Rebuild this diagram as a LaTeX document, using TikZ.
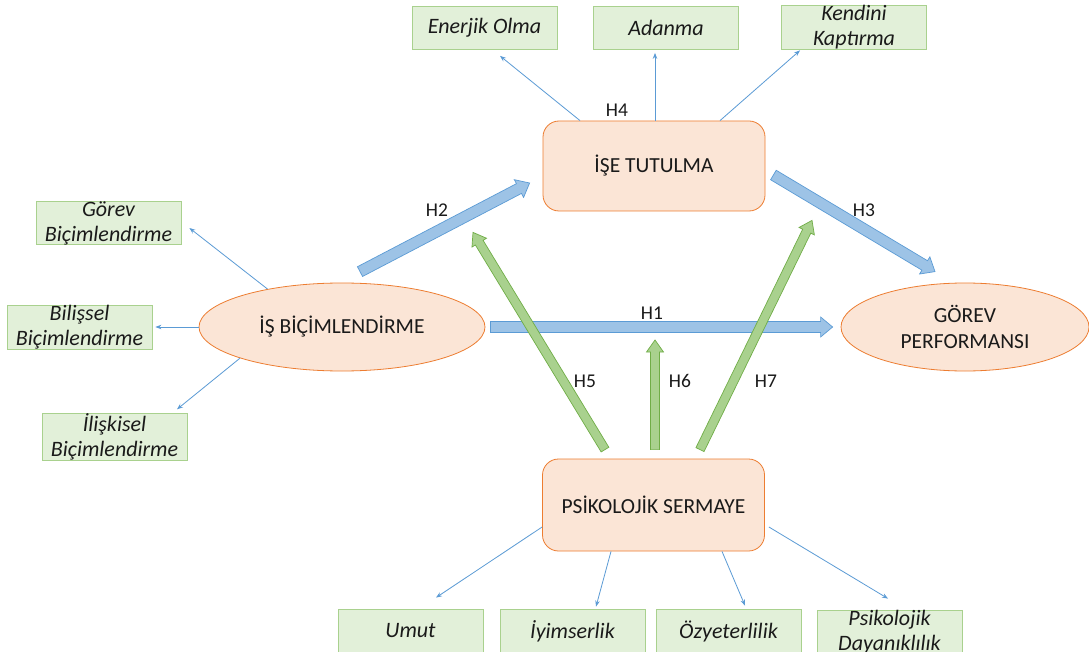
\documentclass[tikz,border=0pt]{standalone}
\usepackage{fontspec}
\setmainfont{Carlito}
\usetikzlibrary{arrows.meta,calc,shapes.geometric}

\definecolor{peach}{HTML}{FBE5D6}
\definecolor{peachline}{HTML}{ED7D31}
\definecolor{leaf}{HTML}{E2F0D9}
\definecolor{leafline}{HTML}{A9D18E}
\definecolor{skyfill}{HTML}{9DC3E6}
\definecolor{skyline}{HTML}{5B9BD5}
\definecolor{grassfill}{HTML}{A9D18E}
\definecolor{grassline}{HTML}{70AD47}
\definecolor{thinblue}{HTML}{5B9BD5}
\definecolor{ink}{HTML}{1A1A1A}

\tikzset{
  construct/.style={draw=peachline, fill=peach, line width=0.8pt, align=center,
    inner sep=0pt, text=ink, font=\fontsize{21.5}{26}\selectfont},
  roundbox/.style={construct, rounded corners=16pt, minimum width=222pt, minimum height=90pt},
  oval/.style={construct, ellipse, minimum height=88pt},
  dimbox/.style={draw=leafline, fill=leaf, line width=0.8pt, minimum width=145pt,
    minimum height=43pt, inner sep=0pt, align=center, text=ink,
    font=\itshape\fontsize{22}{25}\selectfont},
  thinarr/.style={draw=thinblue, line width=0.8pt, -{Stealth[length=6pt,width=4.5pt]}},
  hyp/.style={font=\fontsize{19.5}{21}\selectfont, inner sep=0pt, text=ink},
  bluefat/.style={fill=skyfill, draw=skyline, line width=0.7pt, line join=miter},
  greenfat/.style={fill=grassfill, draw=grassline, line width=0.7pt, line join=miter},
}

% block arrow from #2 to #3: #4 half shaft width, #5 half head width
\newcommand{\fatarrow}[5]{%
  \draw[#1] ($(#2)!#4!90:(#3)$)
    -- ($(#3)!12pt!(#2)!#4!-90:(#2)$)
    -- ($(#3)!12pt!(#2)!#5!-90:(#2)$)
    -- (#3)
    -- ($(#3)!12pt!(#2)!#5!90:(#2)$)
    -- ($(#3)!12pt!(#2)!#4!90:(#2)$)
    -- ($(#2)!#4!-90:(#3)$) -- cycle;}

\begin{document}
\begin{tikzpicture}[x=1pt,y=-1pt]
\useasboundingbox[fill=white] (0,0) rectangle (1089,652);

% main constructs
\node[roundbox] (ise) at (654,166) {İŞE TUTULMA};
\node[roundbox, minimum height=92pt] (psk) at (653.5,505) {PSİKOLOJİK SERMAYE};
\node[oval, minimum width=286pt] (isb) at (342,327) {İŞ BİÇİMLENDİRME};
\node[oval, minimum width=248pt] (gp) at (965,327) {GÖREV\\PERFORMANSI};

% dimensions of work engagement
\node[dimbox] (enerjik) at (484.5,28) {Enerjik Olma};
\node[dimbox] (adanma) at (666,28) {Adanma};
\node[dimbox, minimum height=44pt] (kendini) at (854,27) {Kendini\\Kaptırma};

% dimensions of job crafting
\node[dimbox] (gorev) at (108.5,223) {Görev\\Biçimlendirme};
\node[dimbox] (bilissel) at (79.5,327) {Bilişsel\\Biçimlendirme};
\node[dimbox] (iliskisel) at (114.5,437) {İlişkisel\\Biçimlendirme};

% dimensions of psychological capital
\node[dimbox, minimum height=44pt] (umut) at (410.5,631) {Umut};
\node[dimbox, minimum height=44pt] (iyim) at (572.5,631) {İyimserlik};
\node[dimbox, minimum height=44pt] (ozy) at (728.5,631) {Özyeterlilik};
\node[dimbox, minimum height=44pt] (psikd) at (889.5,632) {Psikolojik\\Dayanıklılık};

% thin arrows to the dimensions
\draw[thinarr] ([xshift=-74pt]ise.north) -- ([xshift=15.5pt,yshift=-6pt]enerjik.south);
\draw[thinarr] ([xshift=1pt]ise.north) -- ([xshift=-11pt,yshift=-3pt]adanma.south);
\draw[thinarr] ([xshift=66pt]ise.north) -- ([xshift=-54pt,yshift=-1pt]kendini.south);

\draw[thinarr] (isb.153) -- ([xshift=8pt,yshift=-5pt]gorev.east);
\draw[thinarr] (isb.west) -- ([xshift=3pt]bilissel.east);
\draw[thinarr] (isb.197) -- ([xshift=62.5pt,yshift=4pt]iliskisel.north);

\draw[thinarr] ([yshift=-22pt]psk.west) -- ([xshift=25.5pt,yshift=11pt]umut.north);
\draw[thinarr] ([xshift=-42.5pt]psk.south) -- ([xshift=23.5pt,yshift=2pt]iyim.north);
\draw[thinarr] ([xshift=68.5pt]psk.south) -- ([xshift=16.5pt,yshift=3pt]ozy.north);
\draw[thinarr] ([xshift=4pt,yshift=-22pt]psk.east) -- ([xshift=-1.5pt,yshift=11pt]psikd.north);

% end points of the hypothesis arrows
\coordinate (h1a) at ([xshift=5pt]isb.east);
\coordinate (h1b) at ([xshift=-8pt]gp.west);
\coordinate (h2a) at ([xshift=18pt,yshift=11pt]isb.north);
\coordinate (h2b) at ([xshift=-13pt,yshift=-17pt]ise.west);
\coordinate (h3a) at ([xshift=8pt,yshift=-9pt]ise.east);
\coordinate (h3b) at ([xshift=-30pt,yshift=11pt]gp.north);
\coordinate (h5a) at ([xshift=-48.5pt,yshift=9pt]psk.north);
\coordinate (h5b) at ([xshift=-181pt,yshift=-21pt]ise.south);
\coordinate (h6a) at ([xshift=1.5pt,yshift=9pt]psk.north);
\coordinate (h6b) at (655,340);
\coordinate (h7a) at ([xshift=46.5pt,yshift=9pt]psk.north);
\coordinate (h7b) at ([xshift=158pt,yshift=-9pt]ise.south);

% hypothesis arrows
\fatarrow{bluefat}{h1a}{h1b}{5.5pt}{10pt}
\fatarrow{bluefat}{h2a}{h2b}{5.5pt}{10pt}
\fatarrow{bluefat}{h3a}{h3b}{5.5pt}{10pt}
\fatarrow{greenfat}{h5a}{h5b}{4.5pt}{8.5pt}
\fatarrow{greenfat}{h6a}{h6b}{4.5pt}{8.5pt}
\fatarrow{greenfat}{h7a}{h7b}{4.5pt}{8.5pt}

% hypothesis labels
\node[hyp] (l1) at (652,313) {H1};
\node[hyp] (l2) at (437,210) {H2};
\node[hyp] (l3) at (864,210) {H3};
\node[hyp] (l4) at (617,110) {H4};
\node[hyp] (l5) at (585,381) {H5};
\node[hyp] (l6) at (680,381) {H6};
\node[hyp] (l7) at (766,381) {H7};
\end{tikzpicture}
\end{document}
